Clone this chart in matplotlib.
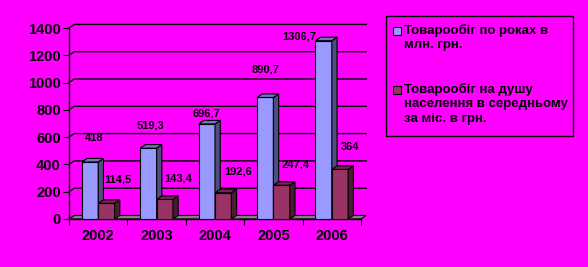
import matplotlib.pyplot as plt
from matplotlib.patches import Polygon, Rectangle

years = ['2002', '2003', '2004', '2005', '2006']
turnover = [418, 519.3, 696.7, 890.7, 1306.7]
per_capita = [114.5, 143.4, 192.6, 247.4, 364]
turnover_lbl = ['418', '519,3', '696,7', '890,7', '1306,7']
per_capita_lbl = ['114,5', '143,4', '192,6', '247,4', '364']
legend_lbl = ['Товарообіг по роках в\nмлн. грн.',
              'Товарообіг на душу\nнаселення в середньому\nза міс. в грн.']

BG = '#FF00FF'
FONT = 'Liberation Sans'
DX, DY = 0.09, 26   # 3d depth in data units
W = 0.28


def bar3d(ax, x0, h, face, side, top):
    ax.add_patch(Rectangle((x0, 0), W, h, facecolor=face, edgecolor='black', lw=0.8, zorder=3))
    ax.add_patch(Polygon([(x0 + W, 0), (x0 + W + DX, DY), (x0 + W + DX, h + DY), (x0 + W, h)],
                         closed=True, facecolor=side, edgecolor='black', lw=0.8, zorder=3))
    ax.add_patch(Polygon([(x0, h), (x0 + DX, h + DY), (x0 + W + DX, h + DY), (x0 + W, h)],
                         closed=True, facecolor=top, edgecolor='black', lw=0.8, zorder=3))


fig = plt.figure(figsize=(5.88, 2.67), dpi=100, facecolor=BG)
ax = fig.add_axes([69 / 588, 48 / 267, 292 / 588, 191 / 267])
ax.set_facecolor('none')
ax.set_xlim(-0.5, 4.5)
ax.set_ylim(0, 1400)
for s in ['top', 'right']:
    ax.spines[s].set_visible(False)
ax.spines['left'].set_linewidth(1)
ax.spines['bottom'].set_linewidth(1)

# back wall gridlines
for v in range(200, 1600, 200):
    ax.plot([-0.5, -0.5 + DX, 4.5 + DX], [v, v + DY, v + DY], color='black', lw=1,
            zorder=1, clip_on=False)
# floor
ax.add_patch(Polygon([(-0.5, 0), (-0.5 + DX, DY), (4.5 + DX, DY), (4.5, 0)], closed=True,
                     facecolor='#808080', edgecolor='black', lw=0.8, zorder=2, clip_on=False))

xs = range(len(years))
for i in xs:
    bar3d(ax, i - W, turnover[i], '#9999FF', '#4D4D80', '#7373BF')
    bar3d(ax, i, per_capita[i], '#993366', '#4D1A33', '#73264D')

# value labels (offsets from bar top, as placed in the original)
t_off = [(-0.07, 176), (-0.11, 163), (-0.14, 80), (-0.14, 208), (-0.56, 34)]
p_off = [(0.34, 178), (0.37, 157), (0.39, 152), (0.39, 149), (0.31, 164)]
for i in xs:
    ax.text(i + t_off[i][0], turnover[i] + t_off[i][1], turnover_lbl[i], ha='center',
            va='center', fontsize=8, fontweight='bold', family=FONT, zorder=5)
    ax.text(i + p_off[i][0], per_capita[i] + p_off[i][1], per_capita_lbl[i], ha='center',
            va='center', fontsize=8, fontweight='bold', family=FONT, zorder=5)

ax.set_yticks(range(0, 1600, 200))
ax.set_xticks([i + 0.5 for i in range(-1, 5)])
ax.set_xticklabels([])
ax.set_xticks(list(xs), minor=True)
ax.set_xticklabels(years, minor=True)
ax.tick_params(axis='x', which='minor', length=0, pad=7)
ax.tick_params(axis='x', which='major', length=4, direction='out')
ax.tick_params(axis='y', length=4, pad=2)
for lbl in ax.get_yticklabels() + ax.get_xticklabels(minor=True):
    lbl.set_fontfamily(FONT)
    lbl.set_fontweight('bold')
    lbl.set_fontsize(10.5)

# legend box
fig.patches.append(Rectangle((386 / 588, 1 - 136 / 267), 187 / 588, 120 / 267,
                             transform=fig.transFigure, facecolor=BG, edgecolor='black', lw=1))
for j, (lbl, col) in enumerate(zip(legend_lbl, ['#9999FF', '#993366'])):
    ytop = [27, 86][j]
    fig.patches.append(Rectangle((393 / 588, 1 - (ytop + 8) / 267), 8 / 588, 8 / 267,
                                 transform=fig.transFigure, facecolor=col, edgecolor='black', lw=0.8))
    fig.text(404 / 588, 1 - (ytop - 3) / 267, lbl, ha='left', va='top', fontsize=9.5,
             fontweight='bold', family=FONT, linespacing=1.25)

fig.savefig('out.png', dpi=100, facecolor=BG)
